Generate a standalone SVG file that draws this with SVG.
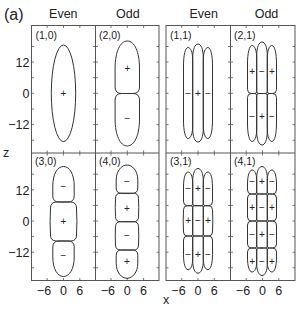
<svg xmlns="http://www.w3.org/2000/svg" width="299" height="310" viewBox="0 0 299 310">
<style>
text{font-family:"Liberation Sans",Arial,sans-serif;fill:#222}
.frame{fill:none;stroke:#555;stroke-width:1}
.tick{stroke:#555;stroke-width:0.8}
.c{fill:none;stroke:#333;stroke-width:1}
.s{font-size:10px;text-anchor:middle}
.hd{font-size:12.5px;text-anchor:middle}
.yl{font-size:12.5px;text-anchor:end}
.xl{font-size:12.5px;text-anchor:middle}
.pl{font-size:10.5px}
</style>
<rect width="299" height="310" fill="#fff"/>
<text x="4" y="20" style="font-size:16px">(a)</text>
<g id="headers">
<text class="hd" x="63.3" y="18">Even</text>
<text class="hd" x="127.8" y="18">Odd</text>
<text class="hd" x="203.7" y="18">Even</text>
<text class="hd" x="266.5" y="18">Odd</text>
</g>
<g id="axes">
<rect class="frame" x="31.5" y="25.5" width="127.5" height="255"/>
<line class="frame" x1="95.5" y1="25.5" x2="95.5" y2="280.5"/>
<line class="frame" x1="31.5" y1="153" x2="159" y2="153"/>
<rect class="frame" x="166" y="25.5" width="129" height="255"/>
<line class="frame" x1="230.5" y1="25.5" x2="230.5" y2="280.5"/>
<line class="frame" x1="166" y1="153" x2="295" y2="153"/>
<path class="tick" d="M47.2,25.5v2.5M63.5,25.5v2.5M79.8,25.5v2.5M111,25.5v2.5M127.3,25.5v2.5M143.6,25.5v2.5M181.7,25.5v2.5M198,25.5v2.5M214.3,25.5v2.5M246.2,25.5v2.5M262.5,25.5v2.5M278.8,25.5v2.5
M47.2,280.5v-2.5M63.5,280.5v-2.5M79.8,280.5v-2.5M111,280.5v-2.5M127.3,280.5v-2.5M143.6,280.5v-2.5M181.7,280.5v-2.5M198,280.5v-2.5M214.3,280.5v-2.5M246.2,280.5v-2.5M262.5,280.5v-2.5M278.8,280.5v-2.5
M47.2,150.5v5M63.5,150.5v5M79.8,150.5v5M111,150.5v5M127.3,150.5v5M143.6,150.5v5M181.7,150.5v5M198,150.5v5M214.3,150.5v5M246.2,150.5v5M262.5,150.5v5M278.8,150.5v5"/>
<path class="tick" d="M31.5,46.5h2.5M31.5,62h2.5M31.5,77.7h2.5M31.5,93.3h2.5M31.5,109h2.5M31.5,124.6h2.5M31.5,140.2h2.5
M31.5,174.2h2.5M31.5,189.8h2.5M31.5,205.4h2.5M31.5,221h2.5M31.5,236.6h2.5M31.5,252.2h2.5M31.5,267.8h2.5
M93,46.5h5M93,62h5M93,77.7h5M93,93.3h5M93,109h5M93,124.6h5M93,140.2h5
M93,174.2h5M93,189.8h5M93,205.4h5M93,221h5M93,236.6h5M93,252.2h5M93,267.8h5
M159,46.5h-2.5M159,62h-2.5M159,77.7h-2.5M159,93.3h-2.5M159,109h-2.5M159,124.6h-2.5M159,140.2h-2.5
M159,174.2h-2.5M159,189.8h-2.5M159,205.4h-2.5M159,221h-2.5M159,236.6h-2.5M159,252.2h-2.5M159,267.8h-2.5
M166,46.5h2.5M166,62h2.5M166,77.7h2.5M166,93.3h2.5M166,109h2.5M166,124.6h2.5M166,140.2h2.5
M166,174.2h2.5M166,189.8h2.5M166,205.4h2.5M166,221h2.5M166,236.6h2.5M166,252.2h2.5M166,267.8h2.5
M228,46.5h5M228,62h5M228,77.7h5M228,93.3h5M228,109h5M228,124.6h5M228,140.2h5
M228,174.2h5M228,189.8h5M228,205.4h5M228,221h5M228,236.6h5M228,252.2h5M228,267.8h5
M295,46.5h-2.5M295,62h-2.5M295,77.7h-2.5M295,93.3h-2.5M295,109h-2.5M295,124.6h-2.5M295,140.2h-2.5
M295,174.2h-2.5M295,189.8h-2.5M295,205.4h-2.5M295,221h-2.5M295,236.6h-2.5M295,252.2h-2.5M295,267.8h-2.5"/>
<text class="yl" x="29.5" y="66.8">12</text>
<text class="yl" x="29.5" y="97.8">0</text>
<text class="yl" x="29.5" y="129.3">−12</text>
<text class="yl" x="29.5" y="194.6">12</text>
<text class="yl" x="29.5" y="225.6">0</text>
<text class="yl" x="29.5" y="256.8">−12</text>
<text x="3" y="157" style="font-size:12.5px">z</text>
<text class="xl" x="44" y="294.5">−6</text>
<text class="xl" x="63.5" y="294.5">0</text>
<text class="xl" x="79.8" y="294.5">6</text>
<text class="xl" x="107.8" y="294.5">−6</text>
<text class="xl" x="127.3" y="294.5">0</text>
<text class="xl" x="143.6" y="294.5">6</text>
<text class="xl" x="178.5" y="294.5">−6</text>
<text class="xl" x="198" y="294.5">0</text>
<text class="xl" x="214.3" y="294.5">6</text>
<text class="xl" x="243" y="294.5">−6</text>
<text class="xl" x="262.5" y="294.5">0</text>
<text class="xl" x="278.8" y="294.5">6</text>
<text x="166" y="304" style="font-size:12.5px;text-anchor:middle">x</text>
</g>
<g id="mode10">
<text class="pl" x="35.5" y="39">(1,0)</text>
<ellipse class="c" cx="63.5" cy="93.3" rx="12.2" ry="48.3"/>
<text class="s" x="63.5" y="96.8">+</text>
</g>
<g id="mode20">
<text class="pl" x="99" y="39">(2,0)</text>
<path class="c" d="M127.3,41 C134.5,41 139.5,52 139.5,68 L139.5,87 Q139.5,93.5 133,93.5 L121.6,93.5 Q115.1,93.5 115.1,87 L115.1,68 C115.1,52 120.1,41 127.3,41 Z"/>
<path class="c" d="M127.3,146 C134.5,146 139.5,135 139.5,119 L139.5,100 Q139.5,93.5 133,93.5 L121.6,93.5 Q115.1,93.5 115.1,100 L115.1,119 C115.1,135 120.1,146 127.3,146 Z"/>
<text class="s" x="127.3" y="71.8">+</text>
<text class="s" x="127.3" y="121.8">−</text>
</g>
<g id="mode11">
<text class="pl" x="170" y="39">(1,1)</text>
<path class="c" d="M192.7,58 C192.7,49 195,44 198,44 C201,44 203.3,49 203.3,58 L203.3,128 C203.3,137 201,142 198,142 C195,142 192.7,137 192.7,128 Z"/>
<path class="c" d="M192.7,60 C192.7,52 190.5,47.5 188.1,47.5 C185.3,47.5 183.5,55 183.5,66 L183.5,120 C183.5,131 185.3,138.5 188.1,138.5 C190.5,138.5 192.7,134 192.7,126 Z"/>
<path class="c" d="M203.3,60 C203.3,52 205.5,47.5 207.9,47.5 C210.7,47.5 212.5,55 212.5,66 L212.5,120 C212.5,131 210.7,138.5 207.9,138.5 C205.5,138.5 203.3,134 203.3,126 Z"/>
<text class="s" x="188.1" y="96.5">−</text>
<text class="s" x="198" y="96.5">+</text>
<text class="s" x="207.9" y="96.5">−</text>
</g>
<g id="mode21">
<text class="pl" x="234" y="39">(2,1)</text>
<path class="c" d="M256.7,56 C256.7,47 259,42 262,42 C265,42 267.3,47 267.3,56 L267.3,91.5 Q267.3,93.5 265.3,93.5 L258.7,93.5 Q256.7,93.5 256.7,91.5 Z"/>
<path class="c" d="M256.7,58 C256.7,50 254.5,45.5 252.1,45.5 C249.3,45.5 247.5,53 247.5,64 L247.5,89.5 Q247.5,93.5 251.5,93.5 L254.7,93.5 Q256.7,93.5 256.7,91.5 Z"/>
<path class="c" d="M267.3,58 C267.3,50 269.5,45.5 271.9,45.5 C274.7,45.5 276.5,53 276.5,64 L276.5,89.5 Q276.5,93.5 272.5,93.5 L269.3,93.5 Q267.3,93.5 267.3,91.5 Z"/>
<path class="c" d="M256.7,131 C256.7,140 259,145 262,145 C265,145 267.3,140 267.3,131 L267.3,95.5 Q267.3,93.5 265.3,93.5 L258.7,93.5 Q256.7,93.5 256.7,95.5 Z"/>
<path class="c" d="M256.7,129 C256.7,137 254.5,141.5 252.1,141.5 C249.3,141.5 247.5,134 247.5,123 L247.5,97.5 Q247.5,93.5 251.5,93.5 L254.7,93.5 Q256.7,93.5 256.7,95.5 Z"/>
<path class="c" d="M267.3,129 C267.3,137 269.5,141.5 271.9,141.5 C274.7,141.5 276.5,134 276.5,123 L276.5,97.5 Q276.5,93.5 272.5,93.5 L269.3,93.5 Q267.3,93.5 267.3,95.5 Z"/>
<text class="s" x="252.1" y="75">+</text>
<text class="s" x="262" y="75">−</text>
<text class="s" x="271.9" y="75">+</text>
<text class="s" x="252.1" y="120">−</text>
<text class="s" x="262" y="120">+</text>
<text class="s" x="271.9" y="120">−</text>
</g>
<g id="mode30">
<text class="pl" x="35" y="165">(3,0)</text>
<path class="c" d="M63.5,166.5 C69.5,166.5 74.2,174 74.2,186 L74.2,196 Q74.2,202 68,202 L59,202 Q52.8,202 52.8,196 L52.8,186 C52.8,174 57.5,166.5 63.5,166.5 Z"/>
<path class="c" d="M56.5,202 L70.5,202 Q76.5,202 76.5,208 Q77.3,221.5 76.5,235 Q76.5,241 70.5,241 L56.5,241 Q50.5,241 50.5,235 Q49.7,221.5 50.5,208 Q50.5,202 56.5,202 Z"/>
<path class="c" d="M63.5,276.5 C69.5,276.5 74.2,269 74.2,257 L74.2,247 Q74.2,241 68,241 L59,241 Q52.8,241 52.8,247 L52.8,257 C52.8,269 57.5,276.5 63.5,276.5 Z"/>
<text class="s" x="63.5" y="189.5">−</text>
<text class="s" x="63.5" y="224.5">+</text>
<text class="s" x="63.5" y="258.5">−</text>
</g>
<g id="mode40">
<text class="pl" x="99" y="165">(4,0)</text>
<path class="c" d="M127,165 C132.5,165 137.8,171 137.8,180 L137.8,188 Q137.8,193.3 132.5,193.3 L121.5,193.3 Q116.2,193.3 116.2,188 L116.2,180 C116.2,171 121.5,165 127,165 Z"/>
<path class="c" d="M120.5,193.3 L133.5,193.3 Q138.5,193.3 138.5,198.3 Q139,207.5 138.5,216.7 Q138.5,221.7 133.5,221.7 L120.5,221.7 Q115.5,221.7 115.5,216.7 Q115,207.5 115.5,198.3 Q115.5,193.3 120.5,193.3 Z"/>
<path class="c" d="M120.5,221.7 L133.5,221.7 Q138.5,221.7 138.5,226.7 Q139,235.85 138.5,245 Q138.5,250 133.5,250 L120.5,250 Q115.5,250 115.5,245 Q115,235.85 115.5,226.7 Q115.5,221.7 120.5,221.7 Z"/>
<path class="c" d="M127,278.3 C132.5,278.3 137.8,272.3 137.8,263.3 L137.8,255.3 Q137.8,250 132.5,250 L121.5,250 Q116.2,250 116.2,255.3 L116.2,263.3 C116.2,272.3 121.5,278.3 127,278.3 Z"/>
<text class="s" x="127" y="184.5">−</text>
<text class="s" x="127" y="211.8">+</text>
<text class="s" x="127" y="238.5">−</text>
<text class="s" x="127" y="265.2">+</text>
</g>
<g id="mode31">
<text class="pl" x="170" y="165">(3,1)</text>
<circle cx="188.5" cy="160" r="0.6" fill="#555"/>
<path class="c" d="M192.7,181 C192.7,173 195,168.5 198,168.5 C201,168.5 203.3,173 203.3,181 L203.3,203.7 Q203.3,205.7 201.3,205.7 L194.7,205.7 Q192.7,205.7 192.7,203.7 Z"/>
<path class="c" d="M192.7,183 C192.7,176 190.5,172 188.1,172 C185.3,172 183.5,178 183.5,187 L183.5,201.7 Q183.5,205.7 187.5,205.7 L190.7,205.7 Q192.7,205.7 192.7,203.7 Z"/>
<path class="c" d="M203.3,183 C203.3,176 205.5,172 207.9,172 C210.7,172 212.5,178 212.5,187 L212.5,201.7 Q212.5,205.7 208.5,205.7 L205.3,205.7 Q203.3,205.7 203.3,203.7 Z"/>
<path class="c" d="M194.7,205.7 L201.3,205.7 Q203.3,205.7 203.3,207.7 L203.3,234 Q203.3,236 201.3,236 L194.7,236 Q192.7,236 192.7,234 L192.7,207.7 Q192.7,205.7 194.7,205.7 Z"/>
<path class="c" d="M187.5,205.7 L190.7,205.7 Q192.7,205.7 192.7,207.7 L192.7,234 Q192.7,236 190.7,236 L187.5,236 Q183.5,236 183.5,232 Q182.9,220.85 183.5,209.7 Q183.5,205.7 187.5,205.7 Z"/>
<path class="c" d="M208.5,205.7 L205.3,205.7 Q203.3,205.7 203.3,207.7 L203.3,234 Q203.3,236 205.3,236 L208.5,236 Q212.5,236 212.5,232 Q213.1,220.85 212.5,209.7 Q212.5,205.7 208.5,205.7 Z"/>
<path class="c" d="M192.7,260.7 C192.7,268.7 195,273.2 198,273.2 C201,273.2 203.3,268.7 203.3,260.7 L203.3,238 Q203.3,236 201.3,236 L194.7,236 Q192.7,236 192.7,238 Z"/>
<path class="c" d="M192.7,258.7 C192.7,265.7 190.5,269.7 188.1,269.7 C185.3,269.7 183.5,263.7 183.5,254.7 L183.5,240 Q183.5,236 187.5,236 L190.7,236 Q192.7,236 192.7,238 Z"/>
<path class="c" d="M203.3,258.7 C203.3,265.7 205.5,269.7 207.9,269.7 C210.7,269.7 212.5,263.7 212.5,254.7 L212.5,240 Q212.5,236 208.5,236 L205.3,236 Q203.3,236 203.3,238 Z"/>
<text class="s" x="188.1" y="191.5">−</text>
<text class="s" x="198" y="191.5">+</text>
<text class="s" x="207.9" y="191.5">−</text>
<text class="s" x="188.1" y="224.4">+</text>
<text class="s" x="198" y="224.4">−</text>
<text class="s" x="207.9" y="224.4">+</text>
<text class="s" x="188.1" y="257.5">−</text>
<text class="s" x="198" y="257.5">+</text>
<text class="s" x="207.9" y="257.5">−</text>
</g>
<g id="mode41">
<text class="pl" x="234" y="165">(4,1)</text>
<path class="c" d="M256.7,178 C256.7,171 259,166.5 262,166.5 C265,166.5 267.3,171 267.3,178 L267.3,192 Q267.3,194 265.3,194 L258.7,194 Q256.7,194 256.7,192 Z"/>
<path class="c" d="M256.7,180 C256.7,173.5 254.5,170 252.1,170 C249.3,170 247.5,176 247.5,184 L247.5,190 Q247.5,194 251.5,194 L254.7,194 Q256.7,194 256.7,192 Z"/>
<path class="c" d="M267.3,180 C267.3,173.5 269.5,170 271.9,170 C274.7,170 276.5,176 276.5,184 L276.5,190 Q276.5,194 272.5,194 L269.3,194 Q267.3,194 267.3,192 Z"/>
<path class="c" d="M258.7,194 L265.3,194 Q267.3,194 267.3,196 L267.3,219 Q267.3,221 265.3,221 L258.7,221 Q256.7,221 256.7,219 L256.7,196 Q256.7,194 258.7,194 Z"/>
<path class="c" d="M251.5,194 L254.7,194 Q256.7,194 256.7,196 L256.7,219 Q256.7,221 254.7,221 L251.5,221 Q247.5,221 247.5,217 L247.5,198 Q247.5,194 251.5,194 Z"/>
<path class="c" d="M272.5,194 L269.3,194 Q267.3,194 267.3,196 L267.3,219 Q267.3,221 269.3,221 L272.5,221 Q276.5,221 276.5,217 L276.5,198 Q276.5,194 272.5,194 Z"/>
<path class="c" d="M258.7,221 L265.3,221 Q267.3,221 267.3,223 L267.3,246 Q267.3,248 265.3,248 L258.7,248 Q256.7,248 256.7,246 L256.7,223 Q256.7,221 258.7,221 Z"/>
<path class="c" d="M251.5,221 L254.7,221 Q256.7,221 256.7,223 L256.7,246 Q256.7,248 254.7,248 L251.5,248 Q247.5,248 247.5,244 L247.5,225 Q247.5,221 251.5,221 Z"/>
<path class="c" d="M272.5,221 L269.3,221 Q267.3,221 267.3,223 L267.3,246 Q267.3,248 269.3,248 L272.5,248 Q276.5,248 276.5,244 L276.5,225 Q276.5,221 272.5,221 Z"/>
<path class="c" d="M256.7,264 C256.7,271 259,275.5 262,275.5 C265,275.5 267.3,271 267.3,264 L267.3,250 Q267.3,248 265.3,248 L258.7,248 Q256.7,248 256.7,250 Z"/>
<path class="c" d="M256.7,262 C256.7,268.5 254.5,272 252.1,272 C249.3,272 247.5,266 247.5,258 L247.5,252 Q247.5,248 251.5,248 L254.7,248 Q256.7,248 256.7,250 Z"/>
<path class="c" d="M267.3,262 C267.3,268.5 269.5,272 271.9,272 C274.7,272 276.5,266 276.5,258 L276.5,252 Q276.5,248 272.5,248 L269.3,248 Q267.3,248 267.3,250 Z"/>
<text class="s" x="252.1" y="184.5">−</text>
<text class="s" x="262" y="184.5">+</text>
<text class="s" x="271.9" y="184.5">−</text>
<text class="s" x="252.1" y="211">+</text>
<text class="s" x="262" y="211">−</text>
<text class="s" x="271.9" y="211">+</text>
<text class="s" x="252.1" y="238">−</text>
<text class="s" x="262" y="238">+</text>
<text class="s" x="271.9" y="238">−</text>
<text class="s" x="252.1" y="264.5">+</text>
<text class="s" x="262" y="264.5">−</text>
<text class="s" x="271.9" y="264.5">+</text>
</g>
</svg>
